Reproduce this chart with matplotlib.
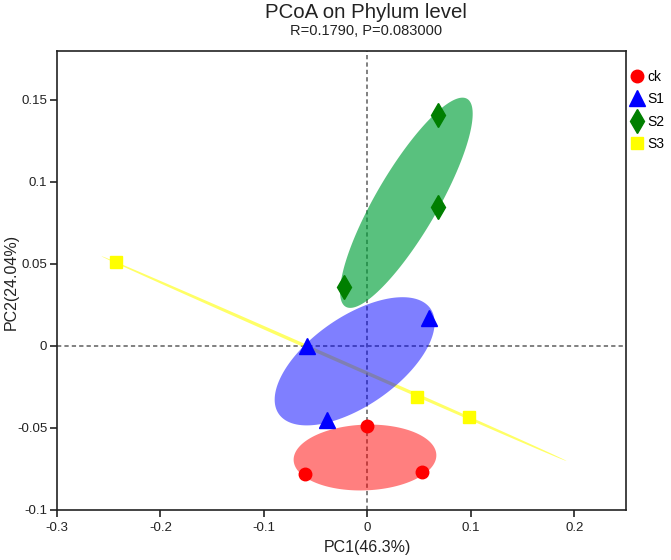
import numpy as np
import matplotlib
matplotlib.use("Agg")
import matplotlib.pyplot as plt

plt.rcParams['font.family'] = ['Liberation Sans', 'DejaVu Sans']

# sample coordinates
groups = ['ck', 'S1', 'S2', 'S3']
pc1 = {
    'ck': [-0.060, 0.000, 0.053],
    'S1': [-0.058, 0.060, -0.039],
    'S2': [0.068, 0.068, -0.023],
    'S3': [-0.243, 0.048, 0.098],
}
pc2 = {
    'ck': [-0.078, -0.049, -0.077],
    'S1': [0.000, 0.017, -0.045],
    'S2': [0.141, 0.085, 0.036],
    'S3': [0.051, -0.031, -0.043],
}
xlabel = 'PC1(46.3%)'
ylabel = 'PC2(24.04%)'
title = 'PCoA on Phylum level'
subtitle = 'R=0.1790, P=0.083000'

# styles
markers = ['o', '^', 'd', 's']
msizes = [9, 11, 12, 8]
mcolors = ['#ff0000', '#0000ff', '#007f00', '#ffff00']
ecolors = ['#ff0000', '#0000ff', '#00a039', '#ffff00']
ealphas = [0.5, 0.5, 0.65, 0.6]
ezorder = [3, 3, 4, 2]
k = 1.22  # ellipse scale (in sd units)

fig = plt.figure(figsize=(6.71, 5.6), dpi=100)
ax = fig.add_axes([0.085, 0.0893, 0.848, 0.82])

ax.axhline(0, color='#808080', ls=(0, (2.2, 1.6)), lw=1.4, zorder=1)
ax.axvline(0, color='#808080', ls=(0, (2.2, 1.6)), lw=1.4, zorder=1)

t = np.linspace(0, 2 * np.pi, 200)
for i, g in enumerate(groups):
    pts = np.array([pc1[g], pc2[g]])
    m = pts.mean(axis=1)
    cov = np.cov(pts)
    vals, vecs = np.linalg.eigh(cov)
    vals = np.clip(vals, 0, None)
    circ = np.array([np.cos(t), np.sin(t)])
    ell = vecs @ (np.sqrt(vals)[:, None] * k * circ) + m[:, None]
    if vals[0] < 1e-7:
        # points on a line -> ellipse collapses to a line
        ax.plot(ell[0], ell[1], color=ecolors[i], alpha=ealphas[i], lw=2,
                zorder=ezorder[i])
    else:
        ax.fill(ell[0], ell[1], color=ecolors[i], alpha=ealphas[i], lw=0,
                zorder=ezorder[i])

handles = []
for i, g in enumerate(groups):
    h, = ax.plot(pc1[g], pc2[g], ls='none', marker=markers[i], ms=msizes[i],
                 color=mcolors[i], mec=mcolors[i], zorder=5, label=g)
    handles.append(h)

ax.set_xlim(-0.3, 0.25)
ax.set_ylim(-0.1, 0.18)
ax.set_xticks([-0.3, -0.2, -0.1, 0, 0.1, 0.2])
ax.set_xticklabels(['-0.3', '-0.2', '-0.1', '0', '0.1', '0.2'])
ax.set_yticks([-0.1, -0.05, 0, 0.05, 0.1, 0.15])
ax.set_yticklabels(['-0.1', '-0.05', '0', '0.05', '0.1', '0.15'])
ax.tick_params(direction='out', length=5, width=1.2, labelsize=9.5, colors='#222222')
ax.tick_params(axis='y', pad=2)
for s in ax.spines.values():
    s.set_linewidth(1.2)
    s.set_color('#222222')

ax.set_xlabel(xlabel, fontsize=11.5, color='#222222')
ax.set_ylabel(ylabel, fontsize=11.5, color='#222222')
ax.xaxis.set_label_coords(0.545, -0.065)
ax.yaxis.set_label_coords(-0.068, 0.497)

fig.text(0.545, 0.978, title, ha='center', va='center', fontsize=14.7, color='#222222')
fig.text(0.545, 0.945, subtitle, ha='center', va='center', fontsize=10.5, color='#222222')

fig.legend(handles=handles, loc='upper left', bbox_to_anchor=(0.93, 0.885),
           frameon=False, fontsize=10, handletextpad=0.2, labelspacing=0.6,
           handlelength=1.1, borderaxespad=0)

fig.savefig('out.png', dpi=100)
